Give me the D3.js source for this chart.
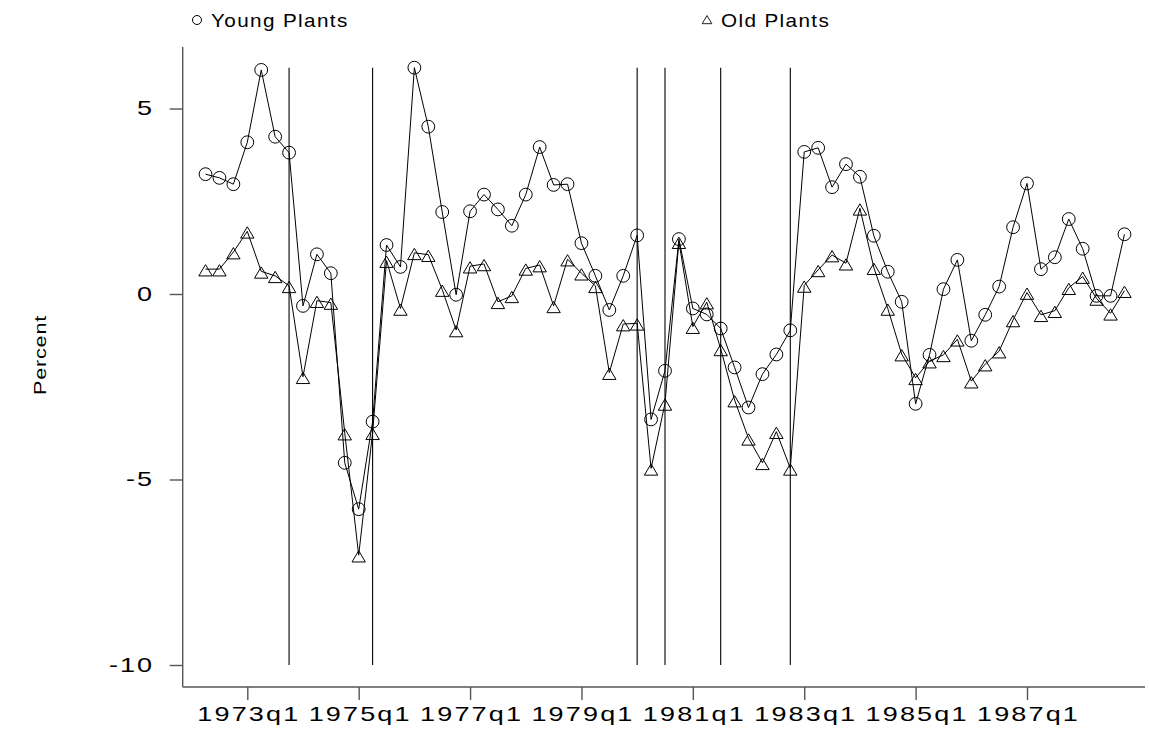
<!DOCTYPE html>
<html>
<head>
<meta charset="utf-8">
<script src="https://cdn.jsdelivr.net/npm/d3@7"></script>
<style>
  body { margin: 0; background: #fff; }
  text { font-family: "Liberation Sans", Arial, Helvetica, sans-serif; fill: #000; }
</style>
</head>
<body>
<svg id="chart" width="1149" height="734"></svg>
<script>
// quarters are Stata %tq numbers (1960q1 = 0); first obs is 1972q2
const firstQuarter = 49;
const young = [3.23, 3.13, 2.96, 4.09, 6.04, 4.24, 3.81, -0.32, 1.07, 0.56,
  -4.55, -5.80, -3.44, 1.32, 0.73, 6.10, 4.51, 2.21, -0.02, 2.23,
  2.68, 2.28, 1.84, 2.68, 3.96, 2.94, 2.96, 1.37, 0.49, -0.43,
  0.49, 1.58, -3.38, -2.07, 1.48, -0.39, -0.55, -0.93, -1.98, -3.06,
  -2.16, -1.63, -0.98, 3.83, 3.94, 2.88, 3.50, 3.16, 1.57, 0.60,
  -0.21, -2.96, -1.64, 0.13, 0.92, -1.26, -0.56, 0.20, 1.80, 2.98,
  0.67, 0.99, 2.02, 1.22, -0.05, -0.05, 1.61];
const old = [0.67, 0.67, 1.13, 1.69, 0.61, 0.49, 0.22, -2.23, -0.18, -0.23,
  -3.75, -7.04, -3.74, 0.90, -0.39, 1.11, 1.06, 0.12, -0.97, 0.75,
  0.81, -0.21, -0.05, 0.69, 0.78, -0.32, 0.94, 0.56, 0.22, -2.12,
  -0.81, -0.79, -4.70, -2.95, 1.41, -0.88, -0.22, -1.48, -2.86, -3.89,
  -4.55, -3.71, -4.70, 0.23, 0.65, 1.05, 0.83, 2.31, 0.71, -0.39,
  -1.62, -2.26, -1.81, -1.64, -1.22, -2.35, -1.89, -1.54, -0.70, 0.04,
  -0.56, -0.45, 0.17, 0.47, -0.12, -0.52, 0.09];
const xTickLabels = ["1973q1", "1975q1", "1977q1", "1979q1", "1981q1", "1983q1", "1985q1", "1987q1"];
const yTicks = [5, 0, -5, -10];
const cycleDates = ["1973q4", "1975q2", "1980q1", "1980q3", "1981q3", "1982q4"];
const seriesNames = ["Young Plants", "Old Plants"];

const tq = s => (+s.slice(0, 4) - 1960) * 4 + (+s.slice(5) - 1);
const stretch = 1.35;   // old Stata fonts are wide

const svg = d3.select('#chart');

// scales
const x = d3.scaleLinear().domain([tq("1973q1"), tq("1987q1")]).range([247.3, 1027]);
const y = d3.scaleLinear().domain([-10, 5]).range([665, 108.5]);

const axisX = 182.7, axisY = 687;
const yTop = d3.max(young.concat(old));

// business cycle lines
svg.append('g').selectAll('line').data(cycleDates).join('line')
  .attr('x1', d => x(tq(d))).attr('x2', d => x(tq(d)))
  .attr('y1', y(-10)).attr('y2', y(yTop))
  .attr('stroke', '#000').attr('stroke-width', 1.1);

// axes
const gY = svg.append('g').attr('transform', `translate(${axisX},0)`)
  .call(d3.axisLeft(y).tickValues(yTicks).tickSize(13).tickFormat(d => String(d)));
const gX = svg.append('g').attr('transform', `translate(0,${axisY})`)
  .call(d3.axisBottom(x).tickValues(xTickLabels.map(tq)).tickSize(13).tickPadding(7)
    .tickFormat((d, i) => xTickLabels[i]));
gY.select('.domain').attr('d', `M0,47V${axisY}`);
gX.select('.domain').attr('d', `M${axisX},0H1145`);
[gY, gX].forEach(g => {
  g.selectAll('.domain, .tick line').attr('stroke', '#555').attr('stroke-width', 1.4);
  g.selectAll('.tick text').attr('font-size', 20).attr('fill', '#000')
    .style('font-family', '"Liberation Sans", Arial, sans-serif');
});
gX.selectAll('.tick text').attr('letter-spacing', 1.6)
  .attr('transform', `translate(1,0) scale(${stretch},1)`);
gY.selectAll('.tick text').attr('letter-spacing', 1.5).attr('x', 0)
  .attr('transform', `translate(${152 - axisX + 1.5 * stretch},0) scale(${stretch},1)`);

// y title
svg.append('text')
  .attr('transform', `translate(46,355) rotate(-90) scale(${stretch},1)`)
  .attr('text-anchor', 'middle')
  .attr('font-size', 16).attr('letter-spacing', 0.6)
  .text('Percent');

// series
const line = d3.line().x((d, i) => x(firstQuarter + i)).y(d => y(d));
const triPath = 'M0,-5.5L6.7,5.8L-6.7,5.8Z';

svg.append('path').datum(young).attr('d', line)
  .attr('fill', 'none').attr('stroke', '#000').attr('stroke-width', 1);
svg.append('path').datum(old).attr('d', line)
  .attr('fill', 'none').attr('stroke', '#000').attr('stroke-width', 1);

svg.append('g').selectAll('circle').data(young).join('circle')
  .attr('cx', (d, i) => x(firstQuarter + i)).attr('cy', d => y(d)).attr('r', 6.4)
  .attr('fill', 'none').attr('stroke', '#000').attr('stroke-width', 1);
svg.append('g').selectAll('path').data(old).join('path')
  .attr('transform', (d, i) => `translate(${x(firstQuarter + i)},${y(d) + 1})`)
  .attr('d', triPath)
  .attr('fill', 'none').attr('stroke', '#000').attr('stroke-width', 1);

// legend
const legend = svg.append('g');
legend.append('circle').attr('cx', 197).attr('cy', 20).attr('r', 4.5)
  .attr('fill', 'none').attr('stroke', '#000').attr('stroke-width', 1);
legend.append('path').attr('transform', 'translate(707,19.5) scale(0.72)').attr('d', triPath)
  .attr('fill', 'none').attr('stroke', '#000').attr('stroke-width', 1.2);
legend.selectAll('text').data(seriesNames).join('text')
  .attr('transform', (d, i) => `translate(${i === 0 ? 211 : 721},27) scale(1.15,1)`)
  .attr('font-size', 18).attr('letter-spacing', 1.2)
  .text(d => d);
</script>
</body>
</html>
